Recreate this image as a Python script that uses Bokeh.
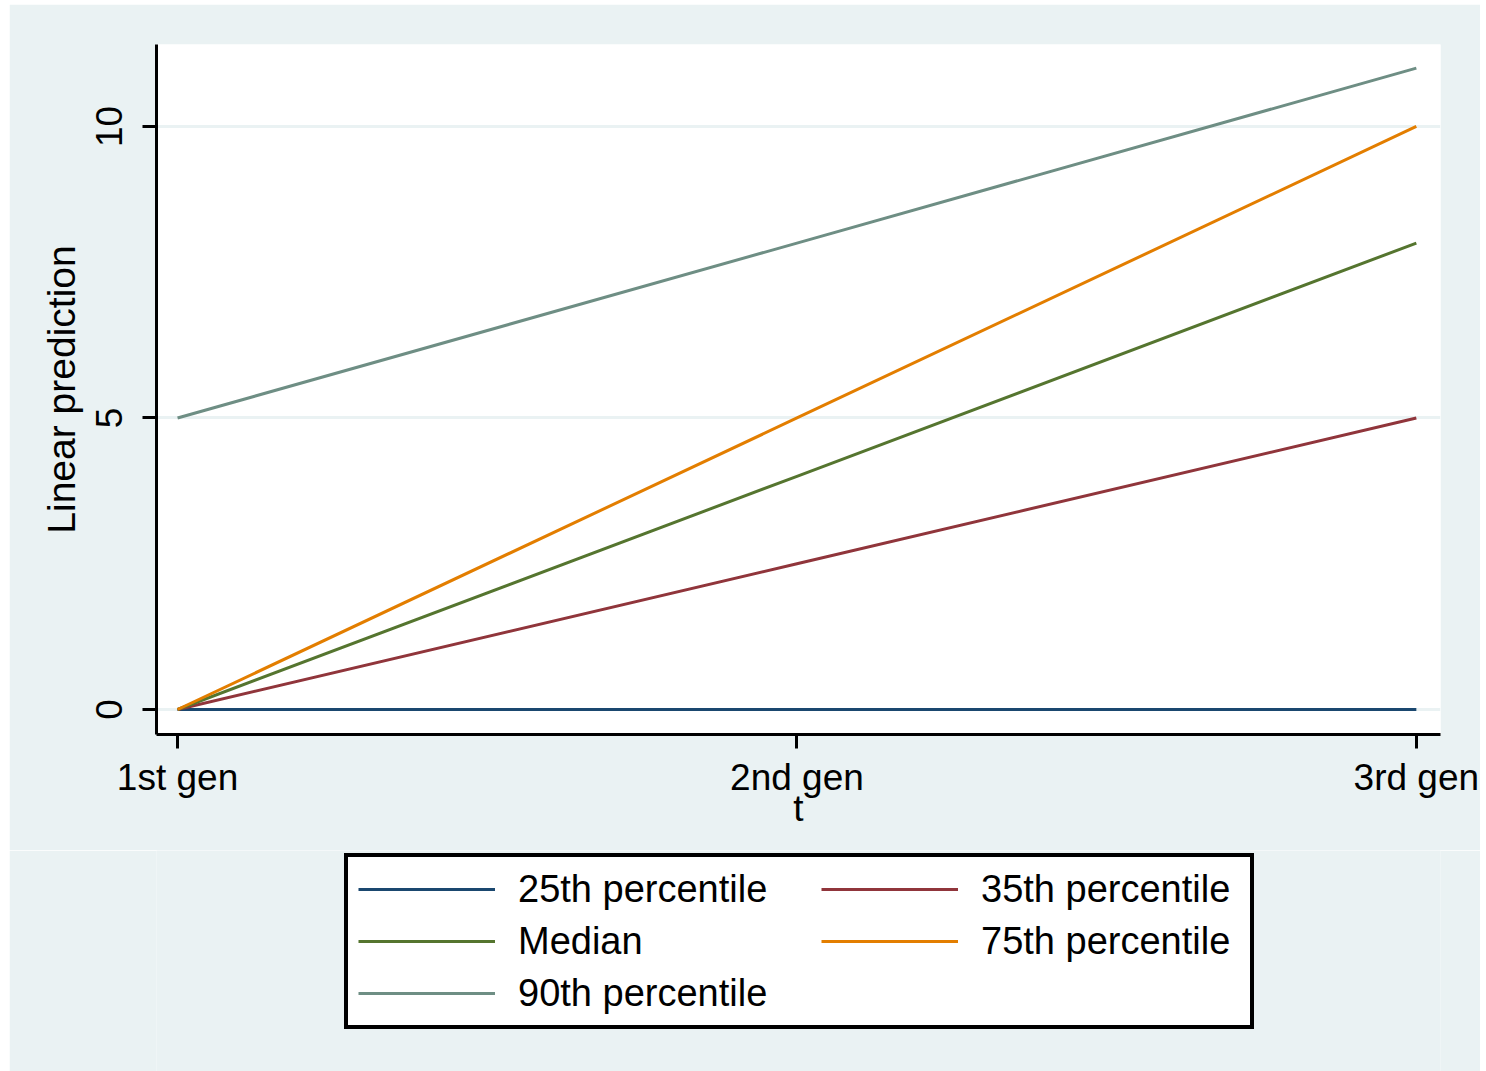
from bokeh.plotting import figure
from bokeh.models import (ColumnDataSource, Range1d, FixedTicker, Legend,
                          LegendItem, Spacer)
from bokeh.layouts import row, column
from bokeh.embed import file_html
from bokeh.resources import INLINE

# Predicted values by generation for each percentile group
generations = ["1st gen", "2nd gen", "3rd gen"]
t = [1, 2, 3]
p25 = [0, 0, 0]
p35 = [0, 2.5, 5]
p50 = [0, 4, 8]
p75 = [0, 5, 10]
p90 = [5, 8, 11]

series_names = ["25th percentile", "35th percentile", "Median",
                "75th percentile", "90th percentile"]
series_values = [p25, p35, p50, p75, p90]
series_colors = ["#1A476F", "#90353B", "#55752F", "#E37E00", "#6E8E84"]

y_ticks = [0, 5, 10]

FONT = "Liberation Sans"
BG = "#EAF2F3"
W = 1471

# ---- main plot ----
p = figure(width=W, height=846, output_backend="svg",
           toolbar_location=None,
           x_range=Range1d(0.966, 3.039), y_range=Range1d(-0.429, 11.406),
           min_border_left=147, min_border_right=40,
           min_border_top=40, min_border_bottom=116)

p.background_fill_color = "white"
p.border_fill_color = BG
p.outline_line_color = None

p.xgrid.visible = False
p.ygrid.ticker = FixedTicker(ticks=y_ticks)
p.ygrid.grid_line_color = BG
p.ygrid.grid_line_width = 3

p.xaxis.ticker = FixedTicker(ticks=t)
p.xaxis.major_label_overrides = {k: g for k, g in zip(t, generations)}
p.yaxis.ticker = FixedTicker(ticks=y_ticks)
p.yaxis.major_label_orientation = "vertical"
for ax in (p.xaxis, p.yaxis):
    ax.axis_line_color = "black"
    ax.axis_line_width = 3
    ax.major_tick_line_color = "black"
    ax.major_tick_line_width = 3
    ax.major_tick_out = 14
    ax.major_tick_in = 0
    ax.minor_tick_line_color = None
    ax.major_label_text_font = FONT
    ax.major_label_text_font_size = "37px"
    ax.major_label_text_color = "black"
    ax.axis_label_text_font = FONT
    ax.axis_label_text_font_style = "normal"
    ax.axis_label_text_color = "black"

p.xaxis.major_label_standoff = 8
p.yaxis.major_label_standoff = 20
p.xaxis.axis_label = "t"
p.xaxis.axis_label_text_font_size = "37px"
p.xaxis.axis_label_standoff = -13
p.yaxis.axis_label = "Linear prediction"
p.yaxis.axis_label_text_font_size = "39px"
p.yaxis.axis_label_standoff = 11

for name, vals, col in zip(series_names, series_values, series_colors):
    src = ColumnDataSource(data=dict(t=t, y=vals))
    p.line("t", "y", source=src, line_color=col, line_width=3)

# ---- legend strip under the plot ----
# same series drawn again, kept outside the strip's view; they only
# provide the legend keys
q = figure(width=W, height=221, output_backend="svg", toolbar_location=None,
           x_axis_type=None, y_axis_type=None,
           x_range=Range1d(-3, -2), y_range=Range1d(-3, -2),
           min_border_left=0, min_border_right=0,
           min_border_top=0, min_border_bottom=0)
q.background_fill_color = BG
q.border_fill_color = BG
q.outline_line_color = None
q.xgrid.visible = False
q.ygrid.visible = False

keys = {}
for name, vals, col in zip(series_names, series_values, series_colors):
    keys[name] = q.line(x=t, y=vals, line_color=col, line_width=3)

ROW_H = 44
SPACING = 8
PAD = 10
BOX_Y = 42
common = dict(orientation="vertical", margin=0, padding=PAD, spacing=SPACING,
              glyph_width=137, glyph_height=ROW_H, label_height=ROW_H,
              label_standoff=23, label_text_font=FONT,
              label_text_font_size="38px", label_text_color="black")

left_names = ["25th percentile", "Median", "90th percentile"]
right_names = ["35th percentile", "75th percentile"]

# left column carries the framed white box spanning both columns
legend_left = Legend(
    items=[LegendItem(label=n, renderers=[keys[n]]) for n in left_names],
    location=(188, BOX_Y), label_width=902 - 2 * PAD - 137 - 23,
    border_line_color="black", border_line_width=4, border_line_alpha=1,
    background_fill_color="white", background_fill_alpha=1, **common)
legend_right = Legend(
    items=[LegendItem(label=n, renderers=[keys[n]]) for n in right_names],
    location=(665, BOX_Y + ROW_H + SPACING + 14),
    border_line_color=None, background_fill_alpha=0, **common)
q.add_layout(legend_left, "center")
q.add_layout(legend_right, "center")

page = row(Spacer(width=9), column(Spacer(height=4), p, q))

open("out.html", "w").write(file_html(page, INLINE))
